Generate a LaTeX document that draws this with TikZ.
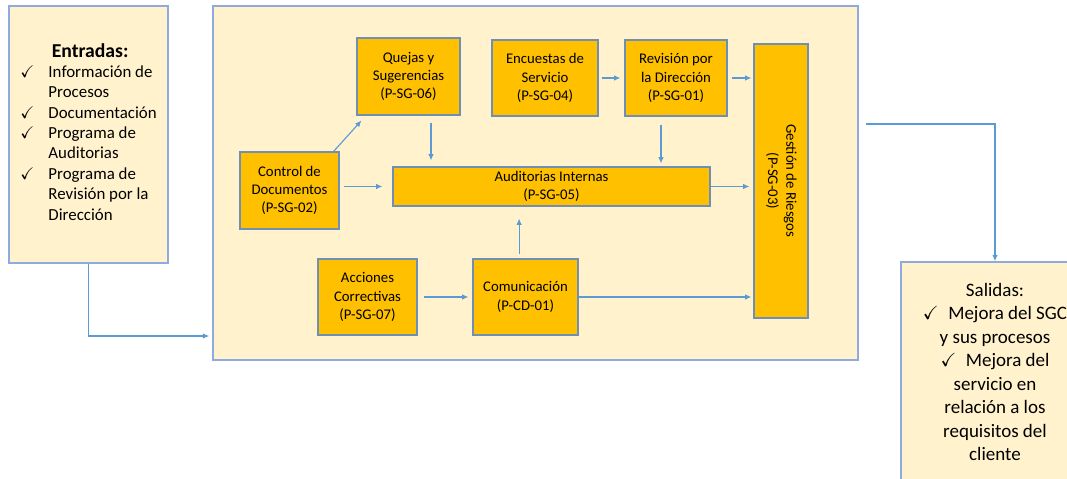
\documentclass[tikz,border=0pt]{standalone}
\usepackage{amssymb}
\usepackage{fontspec}
\setmainfont{Carlito}
\usetikzlibrary{arrows.meta}

\definecolor{panelblue}{HTML}{8FAADC}
\definecolor{boxedge}{HTML}{6F8FB5}
\definecolor{paleyellow}{HTML}{FFF2CC}
\definecolor{procorange}{HTML}{FFC000}
\definecolor{flowblue}{HTML}{5B9BD5}

\tikzset{
  panel/.style={draw=panelblue, line width=1pt, fill=paleyellow, inner sep=0pt},
  proc/.style={draw=boxedge, line width=0.8pt, fill=procorange, align=center,
    inner sep=0pt, font=\fontsize{10.5}{13}\selectfont},
  flow/.style={draw=flowblue, line width=0.8pt, -{Latex[length=4.5pt,width=4pt]}}
}

\begin{document}
\begin{tikzpicture}[x=0.025cm, y=-0.025cm]
  \useasboundingbox (0,0) rectangle (1067,479);
  \clip (0,0) rectangle (1067,479);

  % --- STEP 1: THE THREE PANELS ---

  % A. Inputs on the left
  \node[panel, minimum width=3.975cm, minimum height=6.425cm,
        font=\fontsize{12}{14.5}\selectfont] (entradas) at (88.5,134.5)
    {\begin{tabular}{@{}l@{\hspace{10pt}}l@{}}
       \multicolumn{2}{c}{\fontsize{14}{14.5}\selectfont\textbf{\,Entradas:}}\\
       $\checkmark$ & Información de\\
                    & Procesos\\
       $\checkmark$ & Documentación\\
       $\checkmark$ & Programa de\\
                    & Auditorias\\
       $\checkmark$ & Programa de\\
                    & Revisión por la\\
                    & Dirección
     \end{tabular}};

  % B. The process block in the middle
  \node[panel, minimum width=16.125cm, minimum height=8.85cm] (main) at (535.5,183) {};

  % C. Outputs on the right (runs off the page)
  \node[panel, minimum width=4.7cm, minimum height=5.5cm, align=center,
        font=\fontsize{13.5}{16.7}\selectfont] (salidas) at (995,372)
    {Salidas:\\
     $\checkmark$\enspace Mejora del SGC\\
     y sus procesos\\
     $\checkmark$\enspace Mejora del\\
     servicio en\\
     relación a los\\
     requisitos del\\
     cliente};

  % --- STEP 2: THE PROCEDURES ---

  \node[proc, minimum width=2.575cm, minimum height=1.925cm] (quejas) at (408.5,76.5)
    {Quejas y\\Sugerencias\\(P-SG-06)};
  \node[proc, minimum width=2.65cm, minimum height=1.9cm] (encuestas) at (545,78)
    {Encuestas de\\Servicio\\(P-SG-04)};
  \node[proc, minimum width=2.55cm, minimum height=1.9cm] (revision) at (676,78)
    {Revisión por\\la Dirección\\(P-SG-01)};
  \node[proc, minimum width=2.475cm, minimum height=1.925cm] (control) at (289.5,190.5)
    {Control de\\Documentos\\(P-SG-02)};
  \node[proc, minimum width=7.925cm, minimum height=0.975cm] (audit) at (551.5,186.5)
    {Auditorias Internas\\(P-SG-05)};
  \node[proc, minimum width=2.475cm, minimum height=1.9cm] (acciones) at (367.5,297)
    {Acciones\\Correctivas\\(P-SG-07)};
  \node[proc, minimum width=2.625cm, minimum height=1.9cm] (comunic) at (525.5,297)
    {Comunicación\\(P-CD-01)};

  % the risk box reads top to bottom
  \node[proc, minimum width=1.35cm, minimum height=6.85cm] (gestion) at (781,181)
    {\rotatebox{-90}{\begin{tabular}{@{}c@{}}Gestión de Riesgos\\(P-SG-03)\end{tabular}}};

  % --- STEP 3: THE FLOWS ---

  % A. In and out of the process block
  \draw[flow, shorten >=0.075cm] (entradas.south) |- (main.west |- 0,336);
  \draw[flow, shorten <=0.175cm] (main.east |- 0,124) -| (salidas.north);

  % B. Between the procedures
  \draw[flow] ([xshift=-0.15cm]control.north east)
    -- ([xshift=0.125cm,yshift=-0.125cm]quejas.south west);
  \draw[flow, shorten <=0.1cm, shorten >=0.25cm] (control.east |- audit.west) -- (audit.west);

  \coordinate (qdrop) at ([xshift=0.5625cm]quejas.south);
  \draw[flow, shorten <=0.175cm, shorten >=0.15cm] (qdrop) -- (qdrop |- audit.north);

  \draw[flow, shorten <=0.075cm, shorten >=0.1cm] (encuestas.east) -- (revision.west);
  \draw[flow, shorten <=0.1cm, shorten >=0.05cm] (revision.east) -- (revision.east -| gestion.west);

  \coordinate (rdrop) at ([xshift=-0.375cm]revision.south);
  \draw[flow, shorten <=0.2cm, shorten >=0.075cm] (rdrop) -- (rdrop |- audit.north);

  \draw[flow, shorten >=0.1cm] (audit.east) -- (audit.east -| gestion.west);

  \draw[flow, shorten <=0.15cm, shorten >=0.1cm] (acciones.east) -- (comunic.west);

  \coordinate (crise) at ([xshift=-0.16cm]comunic.north);
  \draw[flow, shorten <=0.1cm, shorten >=0.3cm] (crise) -- (crise |- audit.south);

  \draw[flow, shorten >=0.05cm] (comunic.east) -- (comunic.east -| gestion.west);
\end{tikzpicture}
\end{document}
